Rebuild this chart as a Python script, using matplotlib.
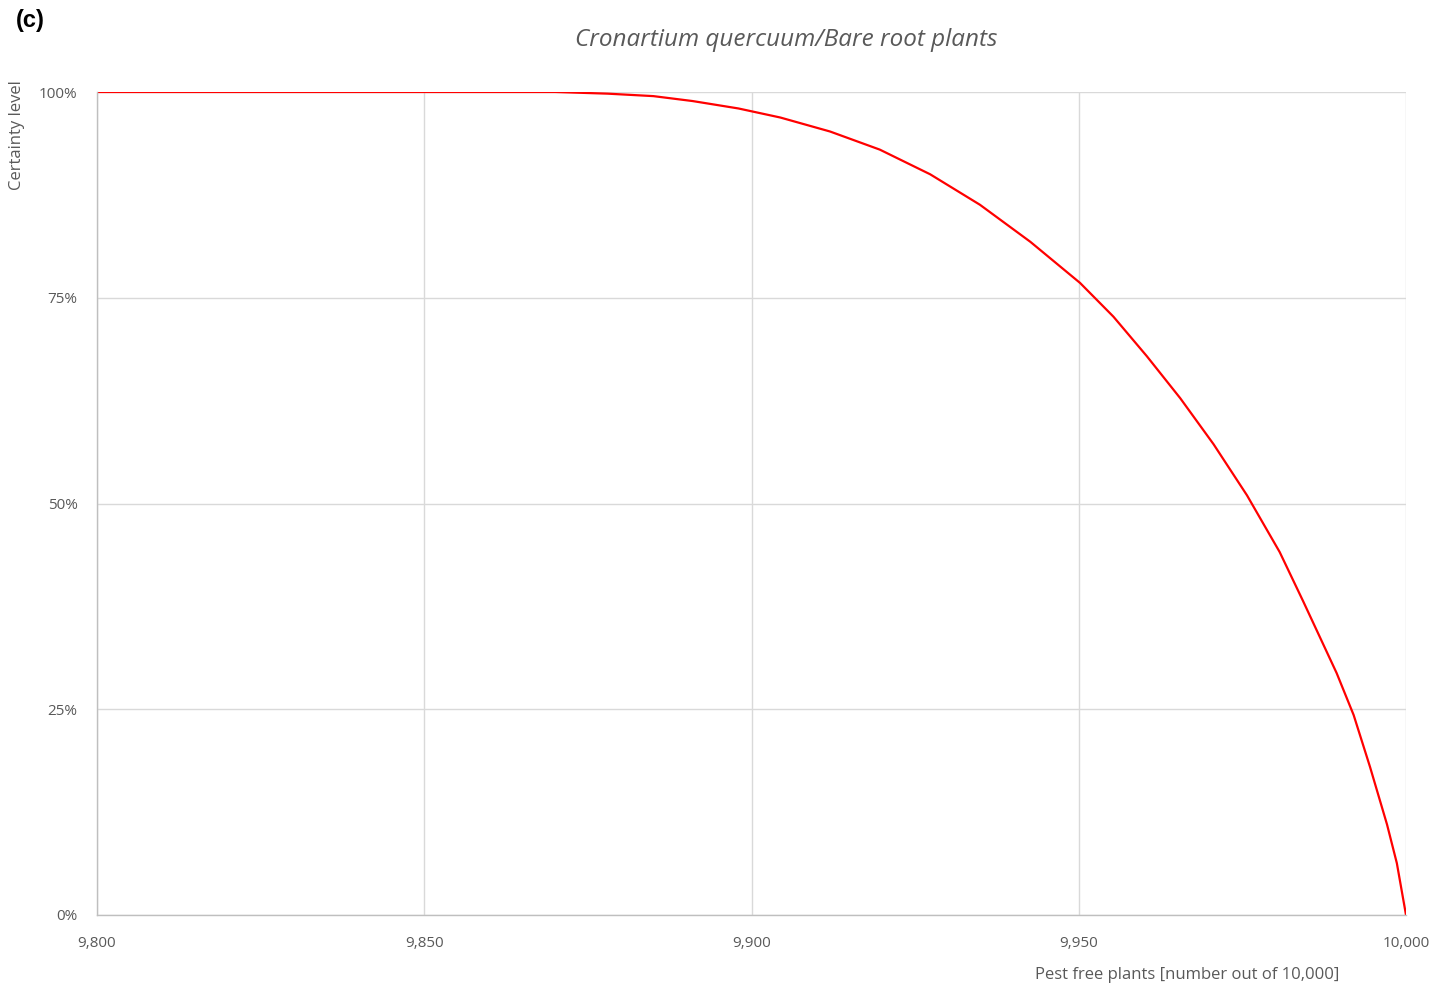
import matplotlib
matplotlib.use("Agg")
import matplotlib.pyplot as plt
from matplotlib.ticker import FuncFormatter

# Data
pest_free = [9800, 9870, 9878, 9885, 9891, 9898, 9904.4, 9912, 9919.6, 9927.3,
             9934.9, 9942.6, 9950.2, 9955.3, 9960.4, 9965.5, 9970.6, 9975.7,
             9980.7, 9984.3, 9989.4, 9992, 9994.5, 9997.1, 9998.6, 10000]
certainty = [100, 100, 99.8, 99.5, 98.9, 98.0, 96.9, 95.2, 93.0, 90.0,
             86.3, 81.8, 76.8, 72.7, 67.9, 62.8, 57.2, 51.0,
             44.1, 38.1, 29.4, 24.3, 18.0, 11.0, 6.3, 0]
x_ticks = [9800, 9850, 9900, 9950, 10000]
y_ticks = [0, 25, 50, 75, 100]

plt.rcParams['font.family'] = ['Open Sans', 'DejaVu Sans']
txt = '#595959'

fig = plt.figure(figsize=(14.33, 9.89), dpi=100)
ax = fig.add_axes([97/1433, 1-915/989, (1406-97)/1433, (915-92)/989])

ax.plot(pest_free, certainty, color='#ff0000', lw=1.6, solid_joinstyle='round')

ax.set_xlim(9800, 10000)
ax.set_ylim(0, 100)
ax.set_xticks(x_ticks)
ax.set_yticks(y_ticks)
ax.xaxis.set_major_formatter(FuncFormatter(lambda v, p: f"{int(v):,}"))
ax.yaxis.set_major_formatter(FuncFormatter(lambda v, p: f"{int(v)}%"))
ax.grid(True, color='#d9d9d9', lw=1)
ax.set_axisbelow(True)
for s in ['top', 'right']:
    ax.spines[s].set_visible(False)
for s in ['left', 'bottom']:
    ax.spines[s].set_color('#bfbfbf')
    ax.spines[s].set_linewidth(1)
ax.tick_params(length=0, labelsize=11, colors=txt)
ax.tick_params(axis='y', pad=14)
ax.tick_params(axis='x', pad=15)

fig.text(1187/1433, 1-975/989, 'Pest free plants [number out of 10,000]',
         ha='center', va='center', fontsize=12, color=txt)
fig.text(17/1433, 1-135/989, 'Certainty level', rotation=90,
         ha='center', va='center', fontsize=12, color=txt)
fig.text(786/1433, 1-40/989, 'Cronartium quercuum/Bare root plants',
         ha='center', va='center', fontsize=17.5, style='italic', color=txt)
fig.text(16/1433, 1-20/989, '(c)', ha='left', va='center', fontsize=17,
         fontweight='bold', color='black', family=['Liberation Sans', 'DejaVu Sans'])

fig.savefig('out.png', dpi=100)
